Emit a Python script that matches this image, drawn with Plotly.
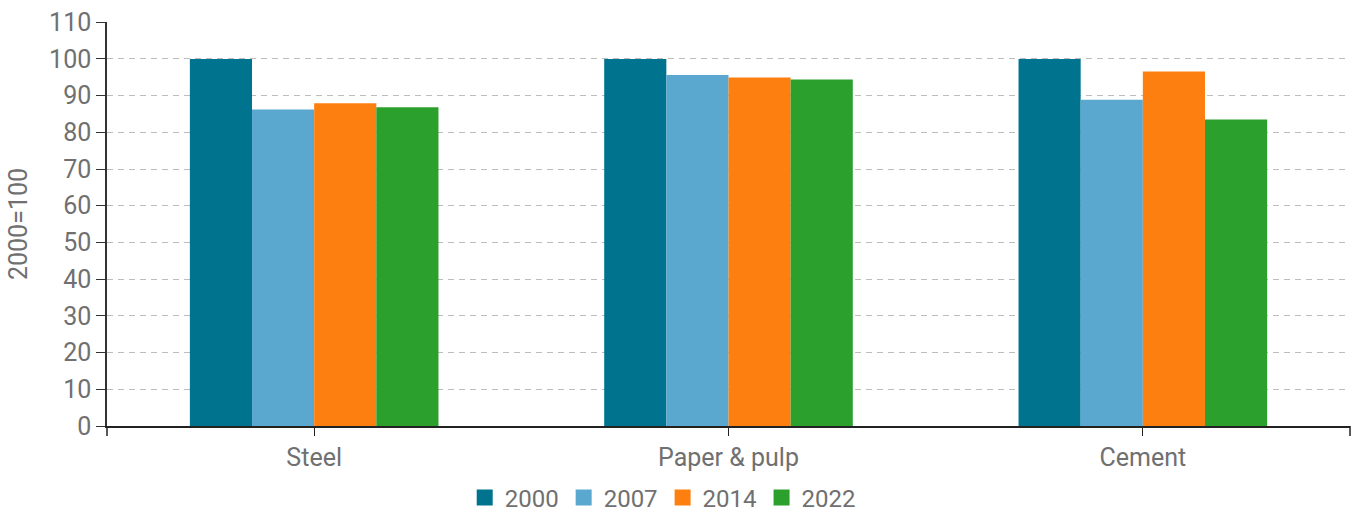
import plotly.graph_objects as go

categories = ["Steel", "Paper & pulp", "Cement"]
years = ["2000", "2007", "2014", "2022"]
values_2000 = [100, 100, 100]
values_2007 = [86.2, 95.6, 88.9]
values_2014 = [87.9, 94.9, 96.6]
values_2022 = [86.8, 94.4, 83.5]
series = [values_2000, values_2007, values_2014, values_2022]
colors = ["#00748f", "#5aa8d0", "#fc7f10", "#2ca02c"]

fig = go.Figure()
for name, vals, col in zip(years, series, colors):
    fig.add_trace(go.Bar(x=categories, y=vals, name=name, marker_color=col,
                         marker_line_width=0, showlegend=False, legendgroup=name))
# legend entries with larger square swatches
for name, col in zip(years, colors):
    fig.add_trace(go.Scatter(x=[None], y=[None], mode="markers", name=name,
                             legendgroup=name,
                             marker=dict(symbol="square", size=16, color=col)))

grey = "#707070"
fs = 25
fig.update_layout(
    width=1358, height=515,
    margin=dict(l=107, r=8, t=22, b=89, autoexpand=False),
    paper_bgcolor="white", plot_bgcolor="white",
    barmode="group", bargap=0.4, bargroupgap=0,
    font=dict(family="Roboto", size=fs, color=grey),
    showlegend=True,
    legend=dict(orientation="h", x=0.488, xref="container", xanchor="center",
                y=0.033, yref="container", yanchor="middle", itemsizing="trace",
                font=dict(size=24, color=grey), traceorder="normal"),
    xaxis=dict(showline=True, linecolor="#222", linewidth=1.5, ticks="outside",
               ticklen=8, tickcolor="#222", tickfont=dict(size=fs, color=grey),
               showgrid=False, automargin=False),
    yaxis=dict(range=[0, 110.05], tickvals=list(range(0, 111, 10)), showline=True,
               linecolor="#333", linewidth=1.5,
               ticks="outside", ticklen=9, tickcolor="#333",
               showgrid=True, gridcolor="#bdbdbd", griddash="6px,5px", gridwidth=1.2,
               tickfont=dict(size=fs, color=grey), automargin=False,
               title=dict(text="2000=100", font=dict(size=fs, color=grey), standoff=14),
               zeroline=False),
)
# axis end ticks
for xp in [0, 1]:
    fig.add_shape(type="line", xref="paper", yref="paper", x0=xp, x1=xp, y0=0, y1=-0.025,
                  line=dict(color="#222", width=1.5))
fig.write_html("out.html", config={"displayModeBar": False},
               post_script="document.body.style.margin='0';document.body.style.overflow='hidden';")
